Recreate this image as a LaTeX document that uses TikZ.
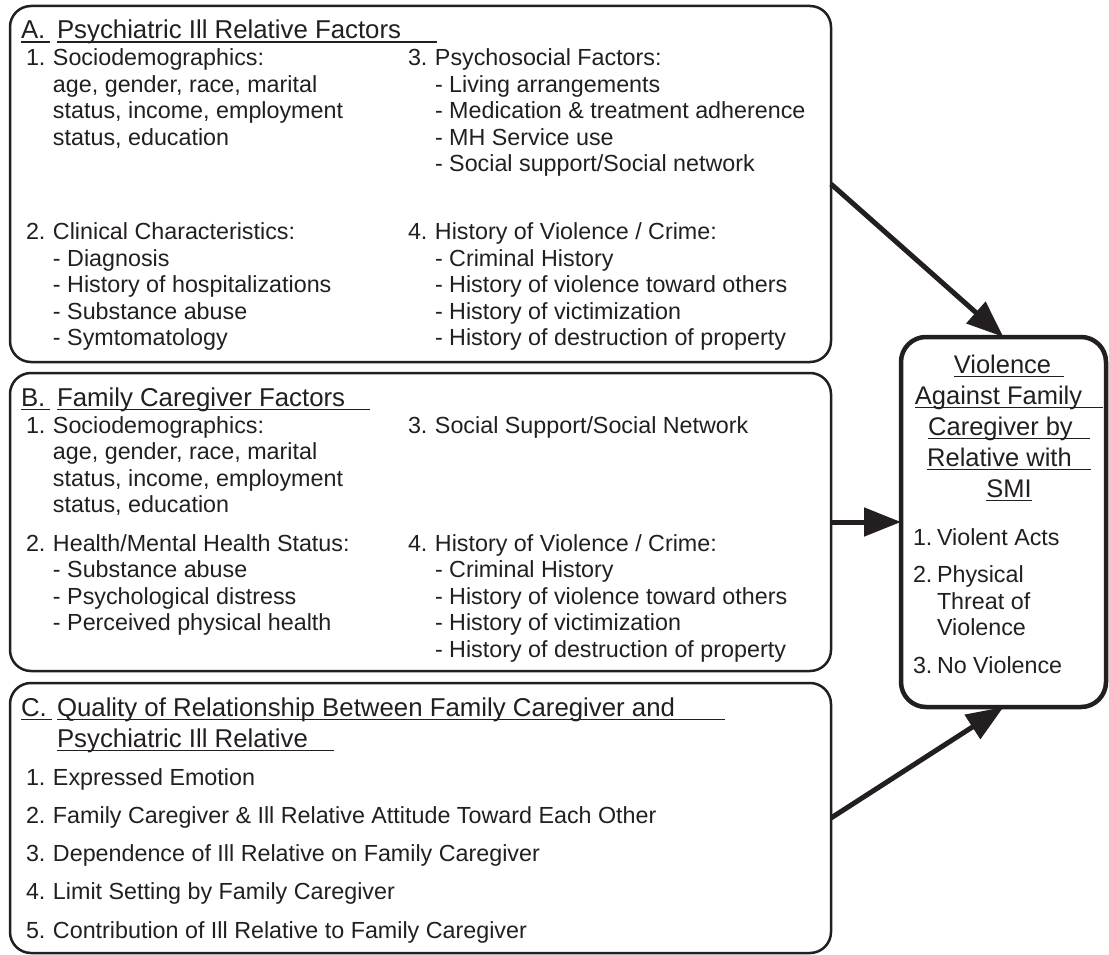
\documentclass[tikz,border=0pt]{standalone}
\usepackage{fontspec}
\setmainfont{Liberation Sans}
\usetikzlibrary{arrows.meta}
\definecolor{ink}{RGB}{35,31,32}
\newsavebox\ulbox
\newcommand\myul[1]{\sbox\ulbox{#1}\rlap{\rule[-4.2pt]{\wd\ulbox}{1.7pt}}\usebox\ulbox}
\newcommand\bodyf{\fontsize{23.3pt}{26.5pt}\selectfont}
\newcommand\titf{\fontsize{25.8pt}{31pt}\selectfont}
\newcommand\rtitf{\fontsize{25.5pt}{31pt}\selectfont}
\newcommand\nm[1]{\makebox[27pt][l]{#1}}
\newcommand\ind{\hspace*{27pt}}
\newcommand\rnm[1]{\makebox[24pt][l]{#1}}
\newcommand\rind{\hspace*{24pt}}
\tikzset{
  box/.style={draw=ink, line width=2.5pt, rounded corners=21pt, inner sep=0pt, outer sep=0pt},
  rbox/.style={draw=ink, line width=4.5pt, rounded corners=25pt, inner sep=0pt, outer sep=0pt},
  txt/.style={anchor=base west, inner sep=0pt, outer sep=0pt, text=ink, font=\bodyf},
  ttl/.style={anchor=base west, inner sep=0pt, outer sep=0pt, text=ink, font=\titf},
  ctl/.style={anchor=base, inner sep=0pt, outer sep=0pt, text=ink, font=\rtitf},
  arr/.style={draw=ink, line width=5pt, -{Triangle[length=37pt,width=28pt]}}
}
\begin{document}
\begin{tikzpicture}[x=1pt,y=-1pt]
\fill[white] (0,0) rectangle (1109,955);
\useasboundingbox (0,0) rectangle (1109,955);
% boxes
\node[box, minimum width=821pt, minimum height=356pt] (A) at (420.5,184) {};
\node[box, minimum width=821pt, minimum height=298pt] (B) at (420.5,522) {};
\node[box, minimum width=821pt, minimum height=270pt] (C) at (420.5,818) {};
\node[rbox, minimum width=205pt, minimum height=370pt] (R) at (1003.5,522) {};
% Box A
\node[ttl] (Atn) at (21,39) {\myul{A.\kern5pt}};
\node[ttl] (Att) at (57,39) {\myul{Psychiatric Ill Relative Factors\kern36pt}};
\node[txt] (A1) at (26,66) {\begin{tabular}[t]{@{}l@{}}
\nm{1.}Sociodemographics:\\
\ind age, gender, race, marital\\
\ind status, income, employment\\
\ind status, education\\[68pt]
\nm{2.}Clinical Characteristics:\\
\ind - Diagnosis\\
\ind - History of hospitalizations\\
\ind - Substance abuse\\
\ind - Symtomatology
\end{tabular}};
\node[txt] (A2) at (408,66) {\begin{tabular}[t]{@{}l@{}}
\nm{3.}Psychosocial Factors:\\
\ind - Living arrangements\\
\ind - Medication \& treatment adherence\\
\ind - MH Service use\\
\ind - Social support/Social network\\[41.5pt]
\nm{4.}History of Violence / Crime:\\
\ind - Criminal History\\
\ind - History of violence toward others\\
\ind - History of victimization\\
\ind - History of destruction of property
\end{tabular}};
% Box B
\node[ttl] (Btn) at (21,406) {\myul{B.\kern5pt}};
\node[ttl] (Btt) at (57,406) {\myul{Family Caregiver Factors\kern25pt}};
\node[txt] (B1) at (26,433) {\begin{tabular}[t]{@{}l@{}}
\nm{1.}Sociodemographics:\\
\ind age, gender, race, marital\\
\ind status, income, employment\\
\ind status, education\\[12pt]
\nm{2.}Health/Mental Health Status:\\
\ind - Substance abuse\\
\ind - Psychological distress\\
\ind - Perceived physical health
\end{tabular}};
\node[txt] (B2) at (408,433) {\begin{tabular}[t]{@{}l@{}}
\nm{3.}Social Support/Social Network\\[91.5pt]
\nm{4.}History of Violence / Crime:\\
\ind - Criminal History\\
\ind - History of violence toward others\\
\ind - History of victimization\\
\ind - History of destruction of property
\end{tabular}};
% Box C
\node[ttl] (Ctn) at (21,716) {\myul{C.\kern5pt}};
\node[ttl] (Ct1) at (57,716) {\myul{Quality of Relationship Between Family Caregiver and\kern50pt}};
\node[ttl] (Ct2) at (57,747) {\myul{Psychiatric Ill Relative\kern26pt}};
\node[txt] (C1) at (26,785) {\begin{tabular}[t]{@{}l@{}}
\nm{1.}Expressed Emotion\\[11.75pt]
\nm{2.}Family Caregiver \& Ill Relative Attitude Toward Each Other\\[11.75pt]
\nm{3.}Dependence of Ill Relative on Family Caregiver\\[11.75pt]
\nm{4.}Limit Setting by Family Caregiver\\[11.75pt]
\nm{5.}Contribution of Ill Relative to Family Caregiver
\end{tabular}};
% Right box
\node[ctl] (R1) at (1009,373) {\myul{Violence\kern13pt}};
\node[ctl] (R2) at (1009,404) {\myul{Against Family\kern21pt}};
\node[ctl] (R3) at (1009,435) {\myul{Caregiver by\kern17pt}};
\node[ctl] (R4) at (1009,466) {\myul{Relative with\kern19pt}};
\node[ctl] (R5) at (1009,497) {\myul{SMI}};
\node[txt] (R6) at (913,545) {\begin{tabular}[t]{@{}l@{}}
\rnm{1.}Violent Acts\\[11pt]
\rnm{2.}Physical\\
\rind Threat of\\
\rind Violence\\[11pt]
\rnm{3.}No Violence
\end{tabular}};
% arrows
\draw[arr] (A.east) -- (R.north);
\draw[arr] (B.east) -- (R.west);
\draw[arr] (C.east) -- (R.south);
\end{tikzpicture}
\end{document}
